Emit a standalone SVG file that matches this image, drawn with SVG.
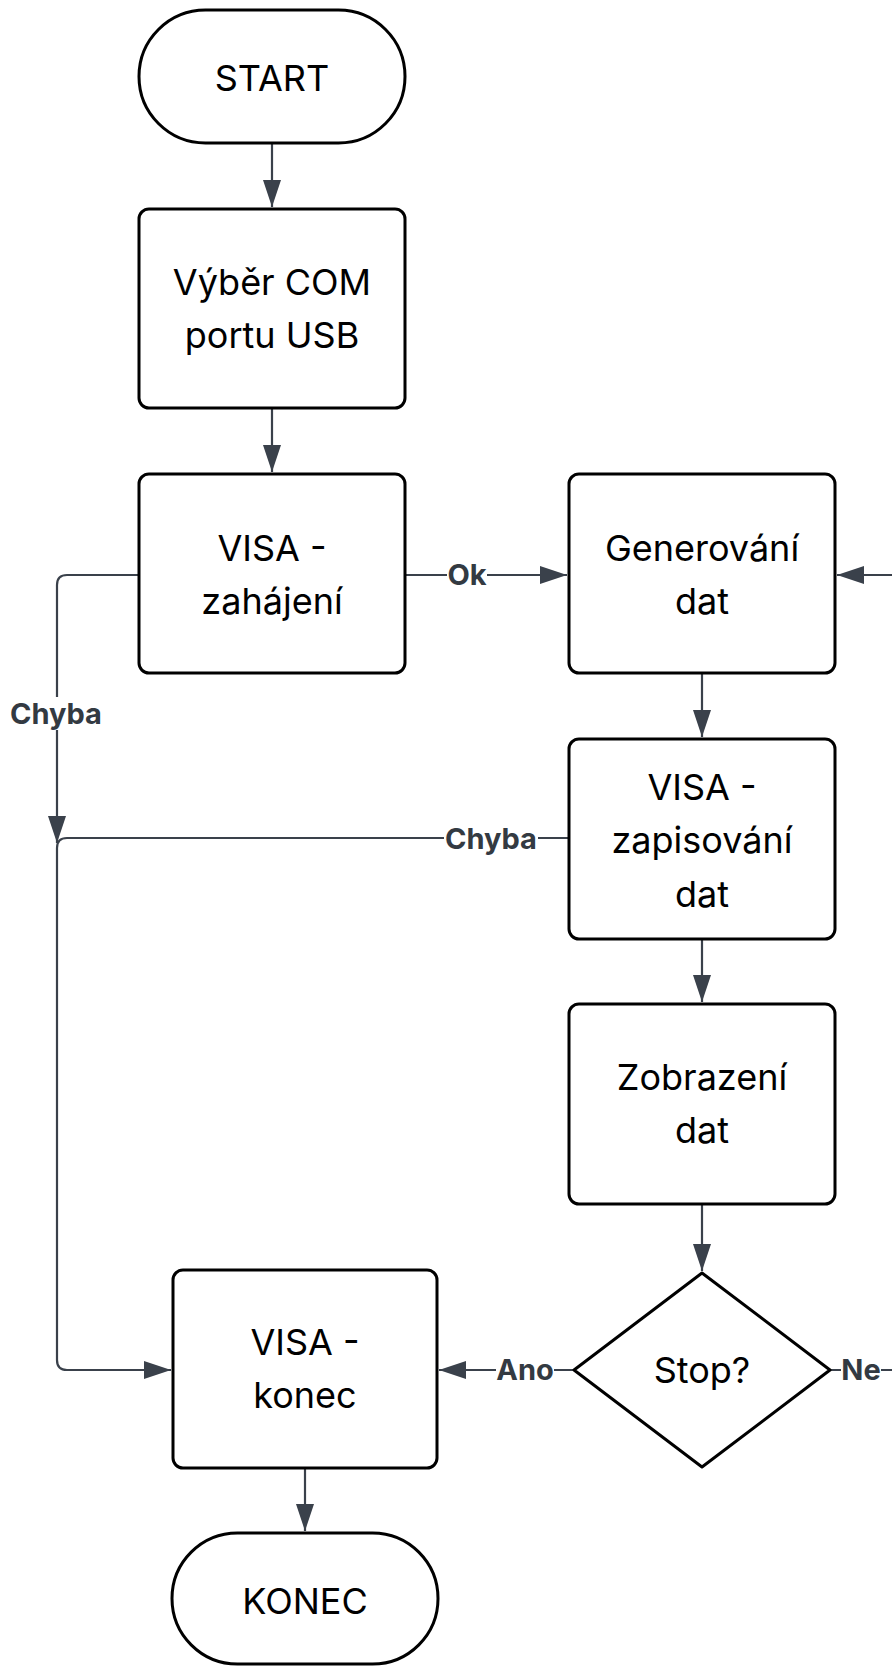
<svg xmlns="http://www.w3.org/2000/svg" width="892" height="1666" viewBox="0 0 892 1666">
<defs>
<style>
.n{fill:#fff;stroke:#000;stroke-width:3}
.t{font-family:Inter,"Liberation Sans",sans-serif;font-size:36px;fill:#000;text-anchor:middle}
.c{fill:none;stroke:#3a414b;stroke-width:2.2}
.l{font-family:Inter,"Liberation Sans",sans-serif;font-size:29px;font-weight:700;fill:#333a42;text-anchor:middle}
.lb{fill:#fff}
</style>
<marker id="ah" markerUnits="userSpaceOnUse" markerWidth="28" markerHeight="18" refX="27" refY="9" orient="auto">
<path d="M0,0 L27,9 L0,18 Z" fill="#3a414b"/>
</marker>
</defs>
<rect width="892" height="1666" fill="#fff"/>
<g id="connectors">
<path class="c" d="M272,143 V207" marker-end="url(#ah)"/>
<path class="c" d="M272,408 V472" marker-end="url(#ah)"/>
<path class="c" d="M405,575 H567" marker-end="url(#ah)"/>
<path class="c" d="M702,673 V737" marker-end="url(#ah)"/>
<path class="c" d="M702,939 V1002" marker-end="url(#ah)"/>
<path class="c" d="M702,1204 V1271" marker-end="url(#ah)"/>
<path class="c" d="M574,1370 H439" marker-end="url(#ah)"/>
<path class="c" d="M830,1370 H915 V575 H837" marker-end="url(#ah)"/>
<path class="c" d="M139,575 H67 Q57,575 57,585 V843" marker-end="url(#ah)"/>
<path class="c" d="M569,838 H67 Q57,838 57,848 V1360 Q57,1370 67,1370 H171" marker-end="url(#ah)"/>
<path class="c" d="M305,1468 V1531" marker-end="url(#ah)"/>
<rect class="lb" x="9" y="697" width="94" height="33"/>
<text class="l" x="56" y="724">Chyba</text>
<rect class="lb" x="447" y="559" width="40" height="32"/>
<text class="l" x="467" y="585">Ok</text>
<rect class="lb" x="444" y="823" width="94" height="32"/>
<text class="l" x="491" y="849">Chyba</text>
<rect class="lb" x="496" y="1354" width="58" height="32"/>
<text class="l" x="525" y="1380">Ano</text>
<rect class="lb" x="841" y="1354" width="40" height="32"/>
<text class="l" x="861" y="1380">Ne</text>
</g>
<g id="start">
<rect class="n" x="139" y="10" width="266" height="133" rx="66.5"/>
<text class="t" x="272" y="91">START</text>
</g>
<g id="vyber">
<rect class="n" x="139" y="209" width="266" height="199" rx="10"/>
<text class="t" x="272" y="295">Výběr COM</text>
<text class="t" x="272" y="348">portu USB</text>
</g>
<g id="zahajeni">
<rect class="n" x="139" y="474" width="266" height="199" rx="10"/>
<text class="t" x="272" y="561">VISA -</text>
<text class="t" x="272" y="614">zahájení</text>
</g>
<g id="generovani">
<rect class="n" x="569" y="474" width="266" height="199" rx="10"/>
<text class="t" x="702" y="561">Generování</text>
<text class="t" x="702" y="614">dat</text>
</g>
<g id="zapisovani">
<rect class="n" x="569" y="739" width="266" height="200" rx="10"/>
<text class="t" x="702" y="800">VISA -</text>
<text class="t" x="702" y="853">zapisování</text>
<text class="t" x="702" y="907">dat</text>
</g>
<g id="zobrazeni">
<rect class="n" x="569" y="1004" width="266" height="200" rx="10"/>
<text class="t" x="702" y="1090">Zobrazení</text>
<text class="t" x="702" y="1143">dat</text>
</g>
<g id="stop">
<path class="n" stroke-linejoin="round" d="M702,1273 L830,1370 L702,1467 L574,1370 Z"/>
<text class="t" x="702" y="1383">Stop?</text>
</g>
<g id="konec-visa">
<rect class="n" x="173" y="1270" width="264" height="198" rx="10"/>
<text class="t" x="305" y="1355">VISA -</text>
<text class="t" x="305" y="1408">konec</text>
</g>
<g id="konec">
<rect class="n" x="172" y="1533" width="266" height="131" rx="65.5"/>
<text class="t" x="305" y="1614">KONEC</text>
</g>
</svg>
